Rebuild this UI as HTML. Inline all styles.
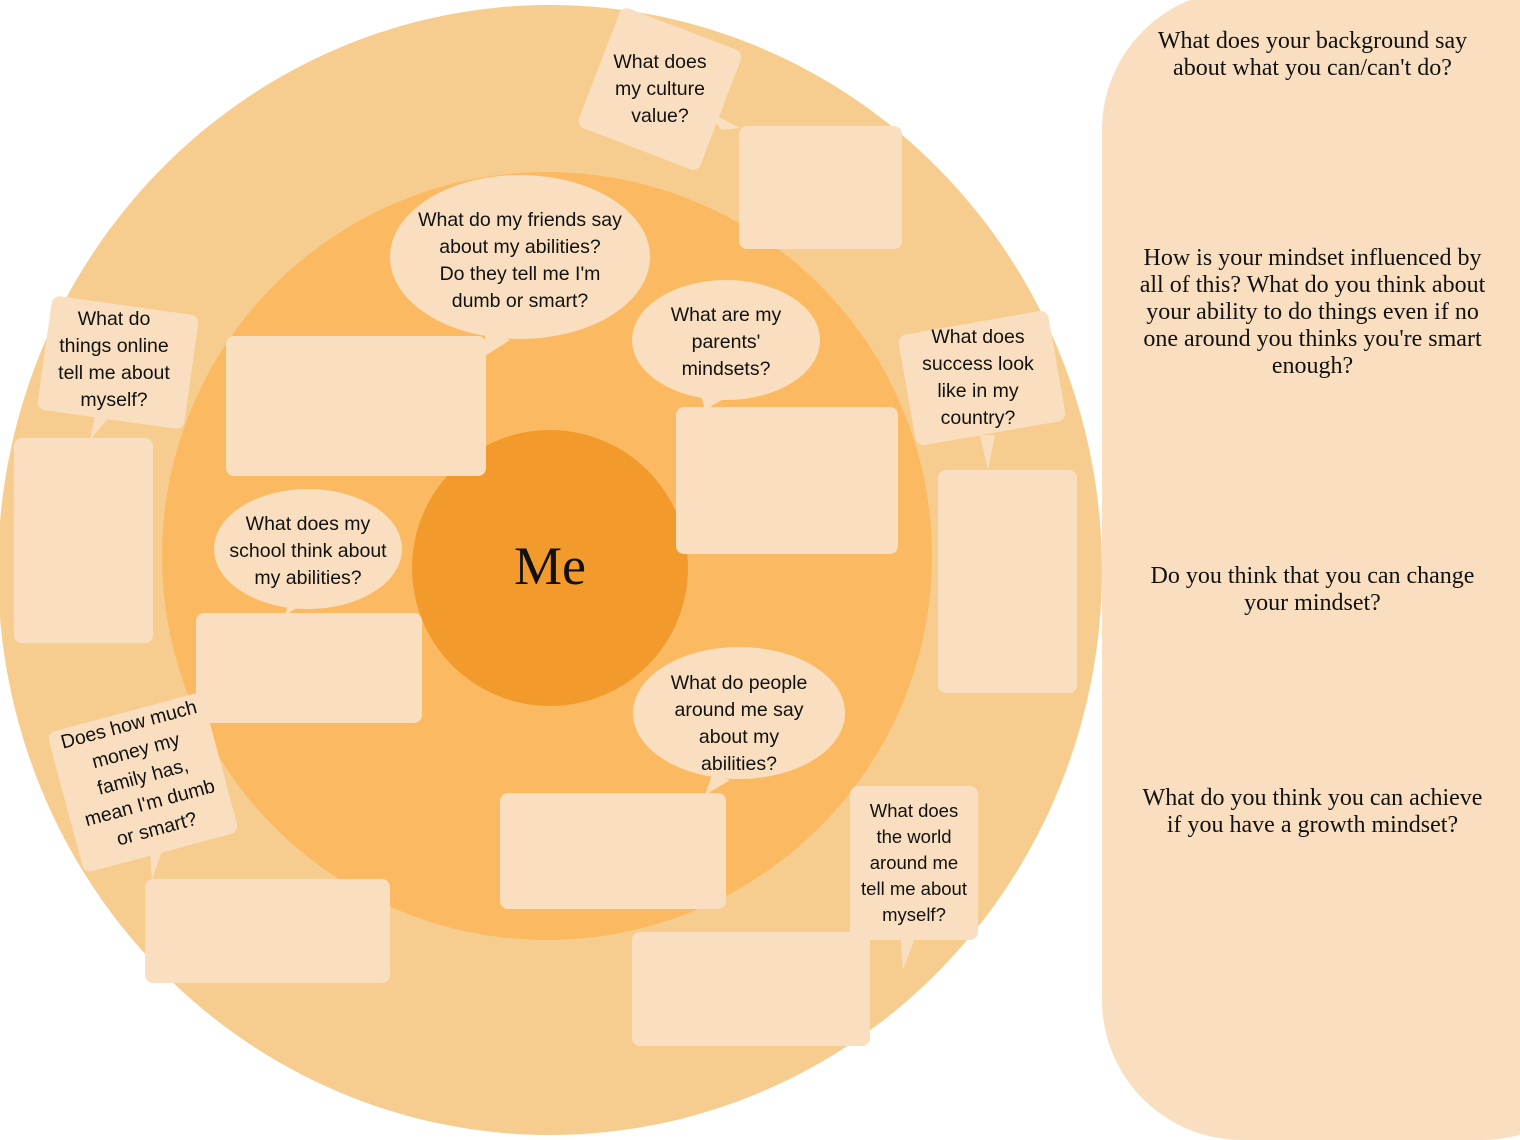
<!DOCTYPE html>
<html><head><meta charset="utf-8"><style>
html,body{margin:0;padding:0;background:#fff;}
body{width:1520px;height:1140px;position:relative;overflow:hidden;font-family:"Liberation Sans",sans-serif;}
.a{position:absolute;}
.c{border-radius:50%;}
.box{position:absolute;background:#f9dfc0;border-radius:8px;}
.t{position:absolute;text-align:center;font-size:19.5px;line-height:27px;color:#111;display:flex;align-items:center;justify-content:center;}
.r{font-family:"Liberation Serif",serif;font-size:24px;line-height:27px;text-align:center;position:absolute;left:1110px;width:405px;color:#111;}
</style></head><body>
<div class="a c" style="left:-2px;top:5px;width:1104px;height:1130px;background:#f7cd8f"></div>
<div class="a c" style="left:162px;top:172px;width:770px;height:768px;background:#fbba62"></div>
<div class="a c" style="left:412px;top:430px;width:276px;height:276px;background:#f39a2d"></div>
<div class="a" style="left:412px;top:535px;width:276px;text-align:center;font-family:'Liberation Serif',serif;font-size:54px;color:#111">Me</div>

<div class="a" style="left:1102px;top:-10px;width:520px;height:1150px;background:#f9dfc0;border-radius:140px"></div>
<div class="r" style="top:28px">What does your background say<br>about what you can/can't do?</div>
<div class="r" style="top:245px">How is your mindset influenced by<br>all of this? What do you think about<br>your ability to do things even if no<br>one around you thinks you're smart<br>enough?</div>
<div class="r" style="top:563px">Do you think that you can change<br>your mindset?</div>
<div class="r" style="top:785px">What do you think you can achieve<br>if you have a growth mindset?</div>

<svg class="a" style="left:0;top:0" width="1100" height="1140">
<g fill="#f9dfc0">
<polygon points="705,110 740,128 722,130"/>
<polygon points="485,330 510,340 485,356"/>
<polygon points="700,392 725,398 705,410"/>
<polygon points="95,415 108,418 90,440"/>
<polygon points="980,435 995,435 988,470"/>
<polygon points="290,600 310,600 285,615"/>
<polygon points="712,775 730,780 705,795"/>
<polygon points="150,850 162,850 152,880"/>
<polygon points="900,930 918,930 903,970"/>
</g>
</svg>

<div class="box" style="left:739px;top:126px;width:163px;height:123px"></div>
<div class="box" style="left:226px;top:336px;width:260px;height:140px"></div>
<div class="box" style="left:676px;top:407px;width:222px;height:147px"></div>
<div class="box" style="left:14px;top:438px;width:139px;height:205px"></div>
<div class="box" style="left:938px;top:470px;width:139px;height:223px"></div>
<div class="box" style="left:196px;top:613px;width:226px;height:110px"></div>
<div class="box" style="left:500px;top:793px;width:226px;height:116px"></div>
<div class="box" style="left:145px;top:879px;width:245px;height:104px"></div>
<div class="box" style="left:632px;top:932px;width:238px;height:114px"></div>

<div class="box" style="left:595px;top:25px;width:130px;height:128px;transform:rotate(21deg)"></div>
<div class="t" style="left:595px;top:25px;width:130px;height:128px">What does<br>my culture<br>value?</div>

<div class="a c" style="left:390px;top:175px;width:260px;height:164px;background:#f9dfc0"></div>
<div class="t" style="left:390px;top:178px;width:260px;height:166px">What do my friends say<br>about my abilities?<br>Do they tell me I'm<br>dumb or smart?</div>

<div class="a c" style="left:632px;top:280px;width:188px;height:120px;background:#f9dfc0"></div>
<div class="t" style="left:632px;top:281px;width:188px;height:122px">What are my<br>parents'<br>mindsets?</div>

<div class="box" style="left:44px;top:305px;width:148px;height:115px;transform:rotate(8deg)"></div>
<div class="t" style="left:40px;top:302px;width:148px;height:115px">What do<br>things online<br>tell me about<br>myself?</div>

<div class="box" style="left:906px;top:322px;width:152px;height:112px;transform:rotate(-10deg)"></div>
<div class="t" style="left:902px;top:322px;width:152px;height:112px">What does<br>success look<br>like in my<br>country?</div>

<div class="a c" style="left:214px;top:489px;width:188px;height:120px;background:#f9dfc0"></div>
<div class="t" style="left:214px;top:490px;width:188px;height:122px">What does my<br>school think about<br>my abilities?</div>

<div class="a c" style="left:633px;top:647px;width:212px;height:132px;background:#f9dfc0"></div>
<div class="t" style="left:633px;top:657px;width:212px;height:134px">What do people<br>around me say<br>about my<br>abilities?</div>

<div class="box" style="left:63px;top:710px;width:160px;height:145px;transform:rotate(-15deg)"></div>
<div class="t" style="left:63px;top:705px;width:160px;height:145px;transform:rotate(-15deg)">Does how much<br>money my<br>family has,<br>mean I'm dumb<br>or smart?</div>

<div class="box" style="left:850px;top:786px;width:128px;height:154px"></div>
<div class="t" style="left:850px;top:786px;width:128px;height:154px;font-size:18.5px;line-height:26px">What does<br>the world<br>around me<br>tell me about<br>myself?</div>
</body></html>
